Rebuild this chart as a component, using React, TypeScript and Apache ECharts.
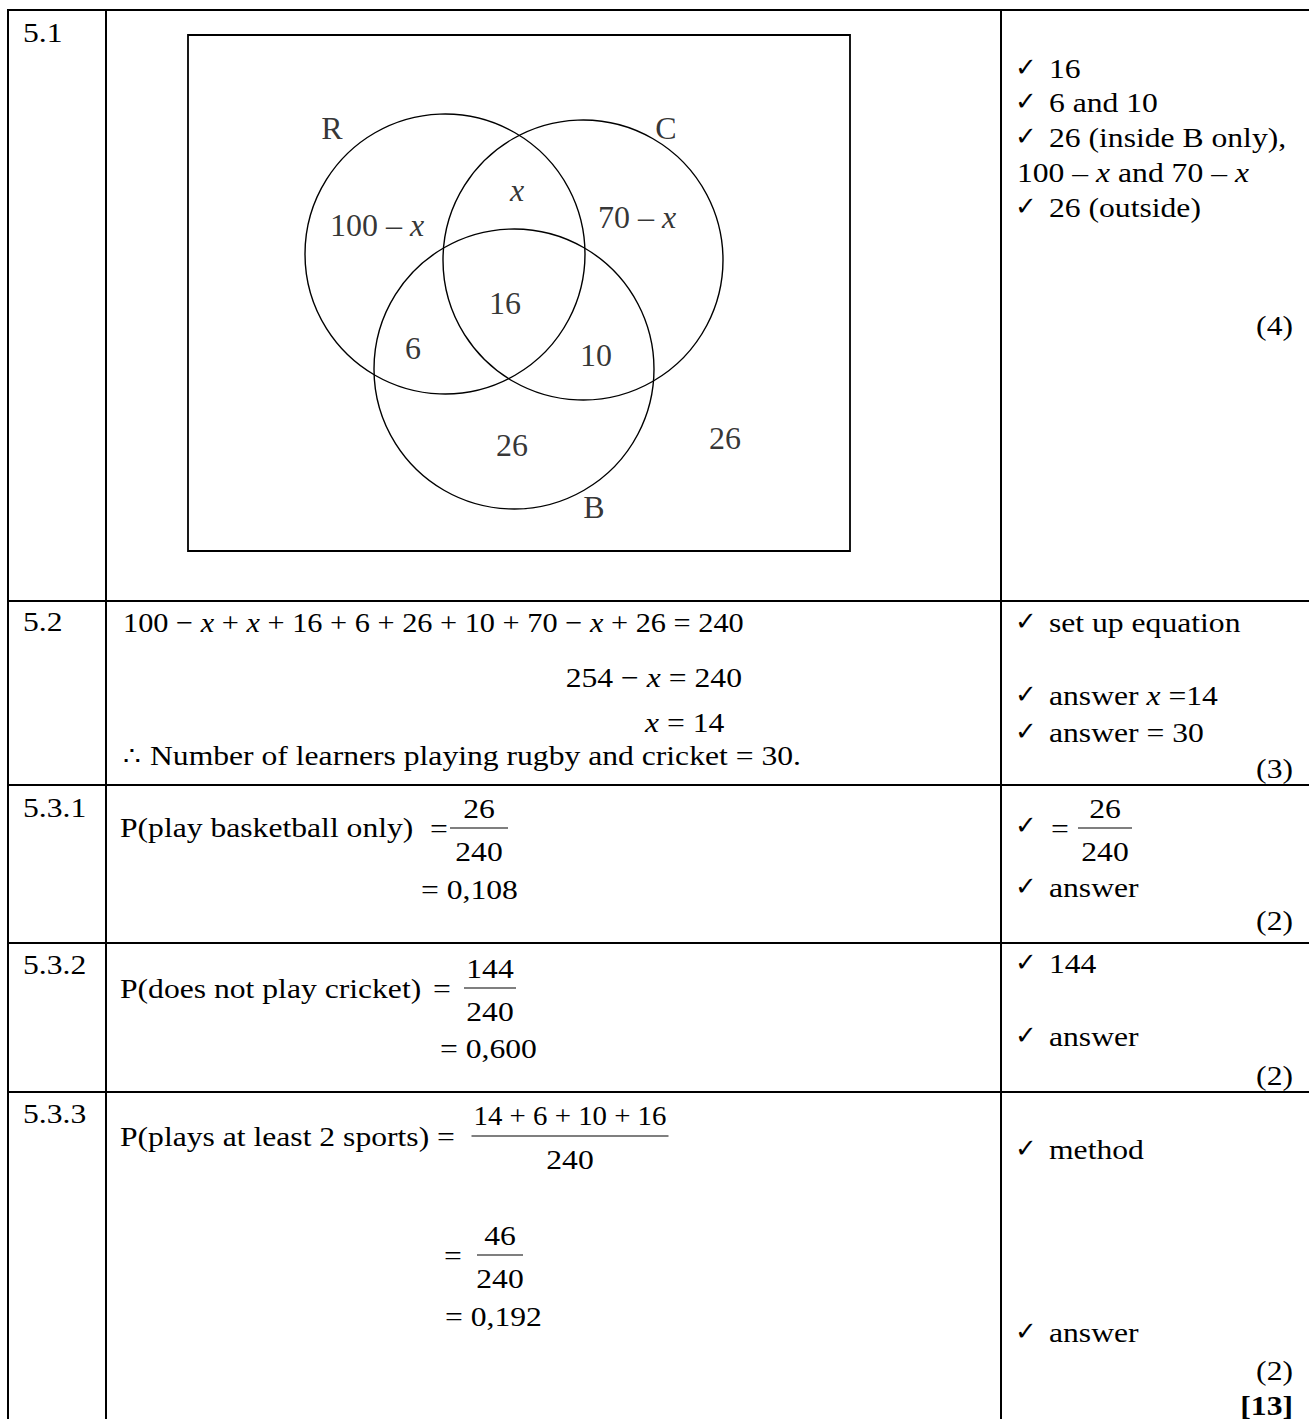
import React, { useEffect, useRef } from "react";
import * as echarts from "echarts";

// ---------- data ----------
const questionNumbers = ["5.1", "5.2", "5.3.1", "5.3.2", "5.3.3"];
const markTotals = ["(4)", "(3)", "(2)", "(2)", "(2)"];
const grandTotal = "[13]";

const vennSetNames = ["R", "C", "B"];
const vennRegionLabels = ["100 – {i|x}", "{i|x}", "70 – {i|x}", "16", "6", "10", "26", "26"];

const memo51 = ["16", "6 and 10", "26 (inside B only),", "100 – {i|x} and 70 – {i|x}", "26 (outside)"];
const memo51Ticks = [true, true, true, false, true];

const eq52 = [
  "100 − {i|x} + {i|x} + 16 + 6 + 26 + 10 + 70 − {i|x} + 26 = 240",
  "254 − {i|x} = 240",
  "{i|x} = 14",
];
const conclusion52 = "Number of learners playing rugby and cricket = 30.";
const memo52 = ["set up equation", "answer {i|x} =14", "answer = 30"];

const p531 = { label: "P(play basketball only)", num: "26", den: "240", result: "= 0,108" };
const memo531 = ["answer"];
const p532 = { label: "P(does not play cricket)", num: "144", den: "240", result: "= 0,600" };
const memo532 = ["144", "answer"];
const p533 = { label: "P(plays at least 2 sports)", num: "14 + 6 + 10 + 16", den: "240", num2: "46", den2: "240", result: "= 0,192" };
const memo533 = ["method", "answer"];

// ---------- layout (positions kept apart from data) ----------
const W = 1309;
const H = 1419;
const FF = "'Liberation Serif', 'Times New Roman', 'DejaVu Serif', serif";
const FS = 28;
const SX = 1.13;
const VENN_FS = 32;

const colX = [8, 106, 1001];
const rowY = [10, 601, 785, 943, 1092];
const qY = [32, 621, 807, 964, 1113];
const markY = [325, 768, 920, 1075, 1370];

// Venn rectangle (grid) and shapes in its own units
const vennBox = { left: 188, top: 35, width: 662, height: 516 };
const vennCircleLayout = [
  [257, 219, 140],
  [395, 225, 140],
  [326, 334, 140],
];
const vennSetLabelLayout = [
  [144, 93],
  [478, 93],
  [406, 472],
];
const vennRegionLayout = [
  [189, 190],
  [329, 155],
  [449, 182],
  [317, 268],
  [225, 313],
  [408, 320],
  [324, 410],
  [537, 403],
];

function txt(text: string, x: number, y: number, o: any = {}) {
  const align = o.align || "left";
  const fs = o.fs || FS;
  return {
    type: "text",
    x,
    y,
    scaleX: o.sx ?? SX,
    silent: true,
    style: {
      text,
      fill: "#000",
      fontFamily: o.ff || FF,
      fontSize: fs,
      fontWeight: o.fw || "normal",
      fontStyle: "normal",
      align,
      textAlign: align,
      verticalAlign: "middle",
      textVerticalAlign: "middle",
      rich: { i: { fontStyle: "italic", fontFamily: FF, fontSize: fs, fill: "#000" } },
    },
  };
}

function ln(x1: number, y1: number, x2: number, y2: number, w = 2) {
  return { type: "line", silent: true, shape: { x1, y1, x2, y2 }, style: { stroke: "#000", lineWidth: w } };
}

function tick(x: number, y: number) {
  return {
    type: "text",
    x,
    y: y - 1,
    silent: true,
    style: {
      text: "✓",
      fill: "#000",
      fontFamily: "'DejaVu Sans', sans-serif",
      fontSize: 26,
      fontWeight: "bold",
      align: "left",
      textAlign: "left",
      verticalAlign: "middle",
      textVerticalAlign: "middle",
    },
  };
}

function frac(num: string, den: string, cx: number, yBar: number, halfW: number, numSx = SX) {
  return [
    txt(num, cx, yBar - 20, { align: "center", sx: numSx }),
    ln(cx - halfW, yBar, cx + halfW, yBar, 1.2),
    txt(den, cx, yBar + 23, { align: "center" }),
  ];
}

const TICK_X = 1015;
const MEMO_X = 1049;
const MARK_R = 1293;
const LX = 120;

function buildGraphic() {
  const els: any[] = [];
  // table lines
  els.push(ln(colX[0], rowY[0], W, rowY[0]));
  for (const x of colX) els.push(ln(x, rowY[0] - 1, x, H));
  for (let i = 1; i < rowY.length; i++) els.push(ln(colX[0], rowY[i], W, rowY[i]));

  // question numbers
  questionNumbers.forEach((q, i) => els.push(txt(q, 23, qY[i])));
  // mark totals
  markTotals.forEach((m, i) => els.push(txt(m, MARK_R, markY[i], { align: "right" })));
  els.push(txt(grandTotal, MARK_R, 1405, { align: "right", fw: "bold" }));

  // 5.1 memo
  const memo51Y = [68, 102, 137, 172, 207];
  memo51.forEach((t, i) => {
    if (memo51Ticks[i]) {
      els.push(tick(TICK_X, memo51Y[i]));
      els.push(txt(t, MEMO_X, memo51Y[i]));
    } else {
      els.push(txt(t, 1017, memo51Y[i]));
    }
  });

  // 5.2
  els.push(txt(eq52[0], 123, 622, { sx: 1.083 }));
  els.push(txt(eq52[1], 742, 677, { align: "right" }));
  els.push(txt(eq52[2], 645, 722));
  els.push(txt("∴", 123, 755, { sx: 1 }));
  els.push(txt(conclusion52, 150, 755));
  const memo52Y = [622, 695, 732];
  memo52.forEach((t, i) => {
    els.push(tick(TICK_X, memo52Y[i]));
    els.push(txt(t, MEMO_X, memo52Y[i]));
  });

  // 5.3.1
  els.push(txt(p531.label, LX, 827));
  els.push(txt("=", 439, 828, { align: "center" }));
  els.push(...frac(p531.num, p531.den, 479, 828, 29));
  els.push(txt(p531.result, 421, 889));
  els.push(tick(TICK_X, 826));
  els.push(txt("=", 1060, 828, { align: "center" }));
  els.push(...frac(p531.num, p531.den, 1105, 828, 27));
  els.push(tick(TICK_X, 887));
  els.push(txt(memo531[0], MEMO_X, 887));

  // 5.3.2
  els.push(txt(p532.label, LX, 988));
  els.push(txt("=", 442, 988, { align: "center" }));
  els.push(...frac(p532.num, p532.den, 490, 988, 26));
  els.push(txt(p532.result, 440, 1048));
  const memo532Y = [963, 1036];
  memo532.forEach((t, i) => {
    els.push(tick(TICK_X, memo532Y[i]));
    els.push(txt(t, MEMO_X, memo532Y[i]));
  });

  // 5.3.3
  els.push(txt(p533.label, LX, 1136));
  els.push(txt("=", 446, 1136, { align: "center" }));
  els.push(...frac(p533.num, p533.den, 570, 1136, 98.5, 1.03));
  els.push(txt("=", 453, 1255, { align: "center" }));
  els.push(...frac(p533.num2, p533.den2, 500, 1255, 23));
  els.push(txt(p533.result, 445, 1316));
  const memo533Y = [1149, 1332];
  memo533.forEach((t, i) => {
    els.push(tick(TICK_X, memo533Y[i]));
    els.push(txt(t, MEMO_X, memo533Y[i]));
  });

  return els;
}

function buildOption() {
  const circleData = vennSetNames.map((n, i) => ({
    name: n,
    value: vennCircleLayout[i],
  }));
  const labelData = [
    ...vennSetNames.map((n, i) => ({ name: n, value: vennSetLabelLayout[i] })),
    ...vennRegionLabels.map((n, i) => ({ name: n, value: vennRegionLayout[i] })),
  ];
  return {
    animation: false,
    backgroundColor: "#fff",
    grid: {
      left: vennBox.left,
      top: vennBox.top,
      width: vennBox.width,
      height: vennBox.height,
      show: true,
      borderColor: "#000",
      borderWidth: 1.8,
      backgroundColor: "transparent",
    },
    xAxis: { type: "value", min: 0, max: vennBox.width, show: false },
    yAxis: { type: "value", min: 0, max: vennBox.height, inverse: true, show: false },
    series: [
      {
        type: "custom",
        silent: true,
        clip: false,
        data: circleData,
        renderItem: (params: any, api: any) => {
          const c = api.coord([api.value(0), api.value(1)]);
          const r = api.size([api.value(2), 0])[0];
          return {
            type: "circle",
            shape: { cx: c[0], cy: c[1], r },
            style: { fill: "none", stroke: "#000", lineWidth: 1.4 },
          };
        },
      },
      {
        type: "scatter",
        silent: true,
        symbolSize: 1,
        itemStyle: { color: "transparent" },
        data: labelData,
        label: {
          show: true,
          position: "inside",
          formatter: (p: any) => p.name,
          color: "#000",
          fontFamily: FF,
          fontSize: VENN_FS,
          rich: { i: { fontStyle: "italic", fontFamily: FF, fontSize: VENN_FS, color: "#000" } },
        },
      },
    ],
    graphic: { elements: buildGraphic() },
  };
}

export default function App() {
  const ref = useRef<HTMLDivElement>(null);
  useEffect(() => {
    if (!ref.current) return;
    const chart = echarts.init(ref.current, null, { renderer: "svg" });
    chart.setOption(buildOption() as any);
    return () => chart.dispose();
  }, []);
  return (
    <div
      ref={ref}
      style={{ position: "absolute", left: 0, top: 0, width: W, height: H, background: "#fff" }}
    />
  );
}
